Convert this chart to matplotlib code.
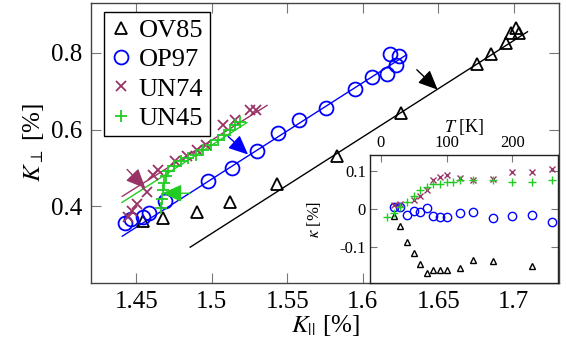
import os
import matplotlib
matplotlib.use("Agg")
import matplotlib.pyplot as plt
from matplotlib import font_manager

# ==== Fonte (Times-like) ====
cands = [f.fname for f in font_manager.fontManager.ttflist
         if f.name == "Liberation Serif" and f.style == "normal" and f.weight in (400, "normal")]
cands += ["/usr/share/fonts/truetype/liberation/LiberationSerif-Regular.ttf",
          "/usr/share/fonts/truetype/liberation2/LiberationSerif-Regular.ttf"]
cands += [f.fname for f in font_manager.fontManager.ttflist
          if f.name == "STIXGeneral" and f.style == "normal" and f.weight in (400, "normal")]
cands += ["/usr/share/fonts/truetype/dejavu/DejaVuSerif.ttf"]
FONT_FILE = next(p for p in cands if os.path.exists(p))
font_manager.fontManager.addfont(FONT_FILE)
FAMILY = font_manager.FontProperties(fname=FONT_FILE).get_name()
plt.rcParams["font.family"] = [FAMILY]
plt.rcParams["mathtext.fontset"] = "stix"

def fp(size):
    return font_manager.FontProperties(fname=FONT_FILE, size=size)

# ==== Dados: painel principal (K_par, K_perp) em % ====
ov85_kpar = [1.4546, 1.4678, 1.4903, 1.5121, 1.5432, 1.5829, 1.6252,
             1.6754, 1.6847, 1.6946, 1.6985, 1.7018, 1.7038]
ov85_kperp = [0.361, 0.369, 0.384, 0.410, 0.457, 0.530, 0.644,
              0.772, 0.798, 0.826, 0.852, 0.865, 0.852]

op97_kpar = [1.6179, 1.6239, 1.6219, 1.6159, 1.6060, 1.5948, 1.5756, 1.5577,
             1.5439, 1.5300, 1.5135, 1.4976, 1.4692, 1.4586, 1.4546, 1.4465, 1.4427]
op97_kperp = [0.798, 0.793, 0.769, 0.746, 0.738, 0.707, 0.655, 0.626,
              0.590, 0.543, 0.501, 0.465, 0.413, 0.382, 0.371, 0.366, 0.356]

un74_kpar = [1.5293, 1.5254, 1.5154, 1.5075, 1.4963, 1.4903, 1.4837,
             1.4758, 1.4645, 1.4612, 1.4573, 1.4507, 1.4474, 1.4447]
un74_kperp = [0.652, 0.652, 0.624, 0.611, 0.561, 0.548, 0.530,
              0.517, 0.494, 0.481, 0.436, 0.405, 0.387, 0.371]

un45_kpar = [1.5187, 1.5154, 1.5121, 1.5082, 1.5042, 1.4996, 1.4943, 1.4897, 1.4844,
             1.4797, 1.4751, 1.4712, 1.4698, 1.4685, 1.4678, 1.4672, 1.4665]
un45_kperp = [0.621, 0.611, 0.598, 0.587, 0.574, 0.561, 0.548, 0.535, 0.527,
              0.517, 0.504, 0.491, 0.478, 0.462, 0.442, 0.418, 0.395]

# retas de ajuste (extremos)
fit_ov85_x = [1.4857, 1.7091]
fit_ov85_y = [0.2934, 0.855]
fit_op97_x = [1.4407, 1.6290]
fit_op97_y = [0.322, 0.795]
fit_un74_x = [1.4407, 1.5366]
fit_un74_y = [0.426, 0.663]
fit_un45_x = [1.4405, 1.5232]
fit_un45_y = [0.410, 0.618]

# setas: (cauda, ponta)
arrows = [
    ((1.6358, 0.756), (1.6496, 0.704), "black"),
    ((1.5108, 0.582), (1.5240, 0.535), "blue"),
    ((1.4439, 0.496), (1.4560, 0.447), "#993366"),
    ((1.4857, 0.434), (1.4672, 0.434), "#22cc22"),
]

# ==== Dados: inset (T em K, kappa em %) ====
ov85_T = [20, 30, 40, 50, 60, 70, 80, 90, 100, 120, 140, 170, 230]
ov85_kappa = [-0.020, -0.046, -0.088, -0.116, -0.145, -0.171, -0.161,
              -0.161, -0.161, -0.157, -0.135, -0.138, -0.150]
op97_T = [20, 30, 40, 50, 60, 70, 80, 90, 100, 120, 140, 170, 200, 230, 260]
op97_kappa = [0.005, 0.004, -0.017, -0.006, -0.008, 0.001, -0.020, -0.023,
              -0.022, -0.013, -0.010, -0.025, -0.020, -0.017, -0.036]
un74_T = [20, 30, 50, 60, 70, 80, 90, 100, 120, 140, 170, 200, 230, 260]
un74_kappa = [0.010, 0.012, 0.023, 0.032, 0.049, 0.075, 0.084, 0.089,
              0.080, 0.075, 0.078, 0.097, 0.096, 0.104]
un45_T = [10, 20, 30, 40, 50, 60, 70, 80, 90, 100, 110, 120, 140, 170, 200, 230, 260]
un45_kappa = [-0.023, -0.012, 0.004, 0.017, 0.034, 0.049, 0.056, 0.065, 0.065,
              0.069, 0.071, 0.074, 0.074, 0.076, 0.071, 0.071, 0.074]

xtick_main = ["1.45", "1.5", "1.55", "1.6", "1.65", "1.7"]
ytick_main = ["0.4", "0.6", "0.8"]
xtick_ins = ["0", "100", "200"]
ytick_ins = ["-0.1", "0", "0.1"]

PURPLE = "#993366"
GREEN = "#22cc22"

# ==== Gráfico ====
fig = plt.figure(figsize=(5.66, 3.48), dpi=100)
ax = fig.add_axes([0.1608, 0.1868, 0.8269, 0.8046])

ax.plot(fit_ov85_x, fit_ov85_y, color="black", lw=1)
ax.plot(fit_op97_x, fit_op97_y, color="blue", lw=1)
ax.plot(fit_un74_x, fit_un74_y, color=PURPLE, lw=1)
ax.plot(fit_un45_x, fit_un45_y, color=GREEN, lw=1)

ax.plot(ov85_kpar, ov85_kperp, ls="none", marker="^", ms=8, mfc="none",
        mec="black", mew=1.3, label="OV85")
ax.plot(op97_kpar, op97_kperp, ls="none", marker="o", ms=10, mfc="none",
        mec="blue", mew=1.3, label="OP97")
ax.plot(un74_kpar, un74_kperp, ls="none", marker="x", ms=7, color=PURPLE,
        mew=1.3, label="UN74")
ax.plot(un45_kpar, un45_kperp, ls="none", marker="+", ms=9, color=GREEN,
        mew=1.3, label="UN45")

for tail, tip, c in arrows:
    ax.annotate("", xy=tip, xytext=tail,
                arrowprops=dict(arrowstyle="-|>,head_length=0.85,head_width=0.38",
                                color=c, lw=1, shrinkA=0, shrinkB=0,
                                mutation_scale=14))

ax.set_xlim(1.42, 1.73)
ax.set_ylim(0.2, 0.93)
ax.set_xticks([1.45, 1.5, 1.55, 1.6, 1.65, 1.7])
ax.set_xticklabels(xtick_main, fontproperties=fp(18))
ax.set_yticks([0.4, 0.6, 0.8])
ax.set_yticklabels(ytick_main, fontproperties=fp(18))
ax.tick_params(direction="in", length=7, width=0.8, color="#777777",
               top=True, right=True, pad=6)
for s in ax.spines.values():
    s.set_color("#444444")
    s.set_linewidth(1)
ax.set_xlabel(r"$K_{||}$ [%]", fontproperties=fp(18), labelpad=0)
ax.set_ylabel(r"$K_{\perp}$ [%]", fontproperties=fp(18), labelpad=4)

leg = ax.legend(loc="upper left", bbox_to_anchor=(0.028, 0.968), prop=fp(19),
                handlelength=0.8, handletextpad=0.25, borderpad=0.25,
                labelspacing=0.22, borderaxespad=0, fancybox=False,
                framealpha=1)
leg.get_frame().set_edgecolor("black")
leg.get_frame().set_linewidth(1)

# ==== Inset ====
ins = fig.add_axes([0.6537, 0.1868, 0.3322, 0.3678])
ins.plot(ov85_T, ov85_kappa, ls="none", marker="^", ms=4.5, mfc="none",
         mec="black", mew=1)
ins.plot(op97_T, op97_kappa, ls="none", marker="o", ms=6, mfc="none",
         mec="blue", mew=1)
ins.plot(un74_T, un74_kappa, ls="none", marker="x", ms=4.5, color=PURPLE, mew=1)
ins.plot(un45_T, un45_kappa, ls="none", marker="+", ms=6, color=GREEN, mew=1)
ins.set_xlim(-16, 269)
ins.set_ylim(-0.196, 0.141)
ins.xaxis.tick_top()
ins.xaxis.set_label_position("top")
ins.set_xticks([0, 100, 200])
ins.set_xticklabels(xtick_ins, fontproperties=fp(12))
ins.set_yticks([-0.1, 0, 0.1])
ins.set_yticklabels(ytick_ins, fontproperties=fp(12))
ins.tick_params(direction="in", length=5, width=0.8, color="#777777",
                right=True, top=True, bottom=False, pad=3)
for s in ins.spines.values():
    s.set_color("#222222")
    s.set_linewidth(1)
ins.set_xlabel(r"$T$ [K]", fontproperties=fp(13), labelpad=2)
ins.set_ylabel(r"$\kappa$ [%]", fontproperties=fp(12), labelpad=12)

fig.savefig("out.png", dpi=100)
